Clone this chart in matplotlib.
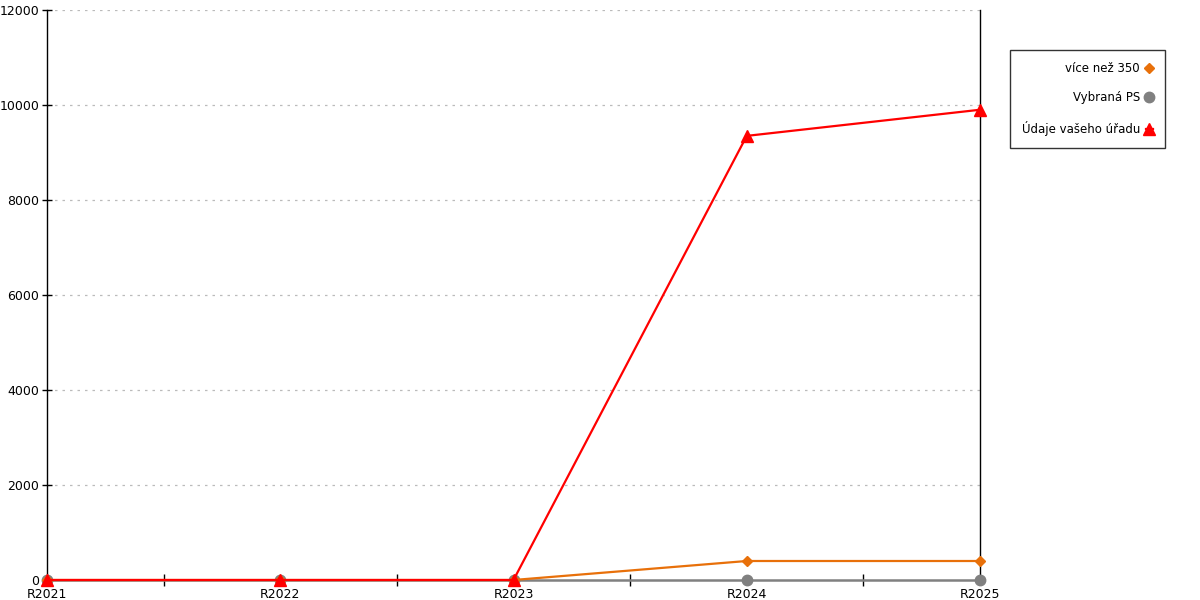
import matplotlib.pyplot as plt
from matplotlib.ticker import FixedLocator

kategorie = ['R2021', 'R2022', 'R2023', 'R2024', 'R2025']
vice_nez_350 = [0, 0, 0, 400, 400]
vybrana_ps = [0, 0, 0, 0, 0]
udaje_uradu = [0, 0, 0, 9350, 9900]

fig = plt.figure(figsize=(12, 6), dpi=100)
ax = fig.add_axes([47 / 1200, 20 / 600, 933 / 1200, 570 / 600])

x = list(range(len(kategorie)))
ax.plot(x, vice_nez_350, color='#e8700a', lw=1.6, marker='D', ms=5.5,
        label='více než 350', zorder=3, clip_on=False)
ax.plot(x, vybrana_ps, color='#808080', lw=1.8, marker='o', ms=7.5,
        label='Vybraná PS', zorder=2, clip_on=False)
ax.plot(x, udaje_uradu, color='#ff0000', lw=1.6, marker='^', ms=8.5,
        label='Údaje vašeho úřadu', zorder=4, clip_on=False)

ax.set_xlim(0, len(kategorie) - 1)
ax.set_ylim(0, 12000)
ax.set_yticks(range(0, 12001, 2000))
ax.set_xticks(x)
ax.set_xticklabels(kategorie)
ax.xaxis.set_minor_locator(FixedLocator([i + 0.5 for i in range(len(kategorie) - 1)]))

for yv in range(2000, 12001, 2000):
    ax.axhline(yv, color='#bbbbbb', lw=0.9, ls=(0, (2, 4)), zorder=0)

for s in ['top', 'bottom']:
    ax.spines[s].set_visible(False)
ax.spines['left'].set_linewidth(1)
ax.spines['right'].set_linewidth(1)
ax.spines['left'].set_zorder(1)
ax.spines['right'].set_zorder(1)

ax.tick_params(axis='y', direction='inout', length=7, width=1, labelsize=9, pad=2)
ax.tick_params(axis='x', which='major', length=0, labelsize=9, pad=6)
ax.tick_params(axis='x', which='minor', direction='inout', length=8, width=1)

ax.legend(loc='upper left', bbox_to_anchor=(1.032, 0.93), markerfirst=False,
          frameon=True, fancybox=False, edgecolor='black', fontsize=8.5,
          handlelength=0.6, labelspacing=1.4, borderpad=1.0, handletextpad=0.5,
          borderaxespad=0)

fig.savefig('out.png', dpi=100)
